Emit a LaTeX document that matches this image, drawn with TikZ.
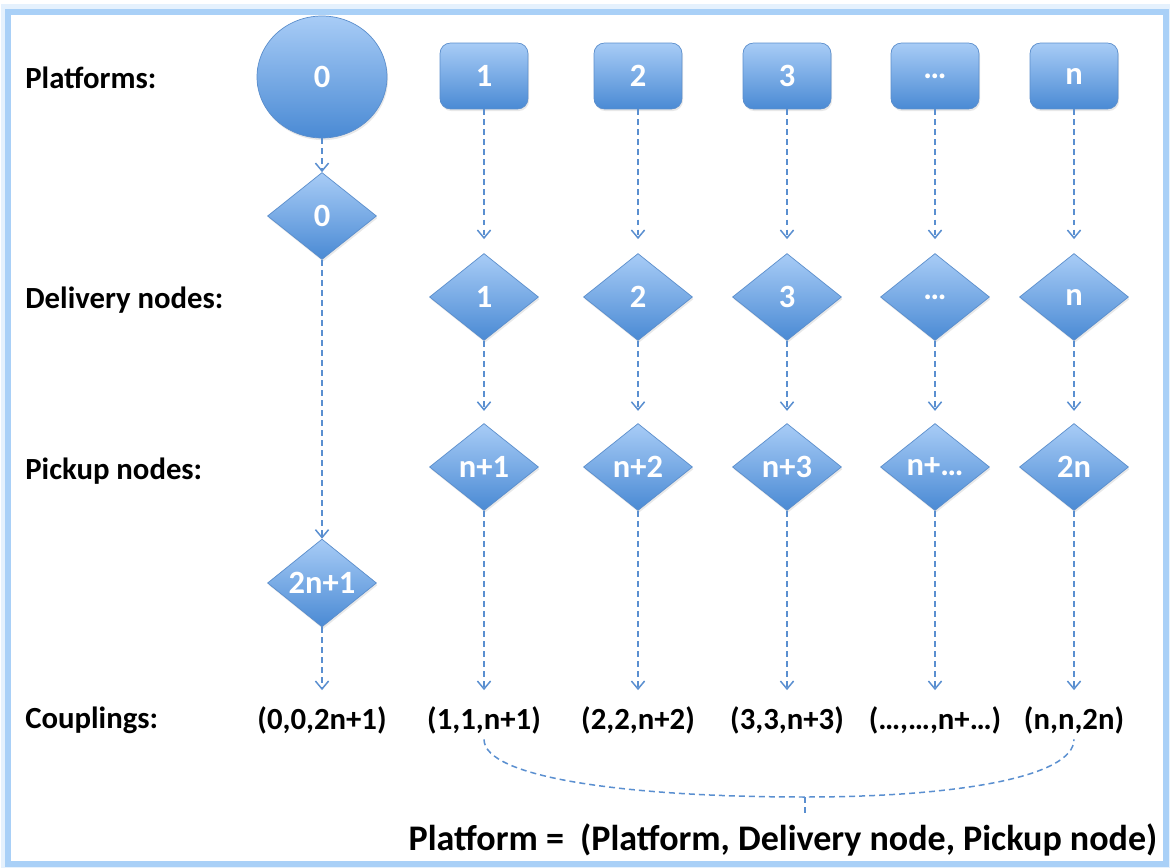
\documentclass[tikz,border=0pt]{standalone}
\usepackage{fontspec}
\setmainfont{Carlito}
\usetikzlibrary{positioning, arrows.meta, shapes.geometric, shadows}

\definecolor{nodetop}{HTML}{A8CCF6}
\definecolor{nodebot}{HTML}{4A8AD4}
\definecolor{nodeline}{HTML}{5B8ECC}
\definecolor{linkblue}{HTML}{5A8FD0}
\definecolor{frameblue}{HTML}{A9D0F7}

\begin{document}
\begin{tikzpicture}[
  x=0.02cm, y=-0.02cm,
  >={Straight Barb[length=4.5pt, width=7.5pt]},
  font=\fontsize{17.5}{20}\selectfont\bfseries,
  blob/.style={draw=nodeline, top color=nodetop, bottom color=nodebot,
               text=white, inner sep=0pt,
               font=\fontsize{18.5}{20}\selectfont\bfseries,
               drop shadow={opacity=0.18, shadow xshift=0.6pt, shadow yshift=-1.2pt}},
  platbox/.style={blob, rounded corners=6pt, minimum width=1.76cm, minimum height=1.32cm},
  platcirc/.style={blob, ellipse, minimum width=2.6cm, minimum height=2.44cm},
  diam/.style={blob, diamond, minimum width=2.18cm, minimum height=1.74cm},
  link/.style={->, linkblue, line width=0.85pt, dash pattern=on 3.4pt off 2.3pt},
  brace/.style={linkblue, line width=0.85pt, dash pattern=on 3.4pt off 2.3pt},
  rowlabel/.style={anchor=west, inner sep=0pt},
  couple/.style={inner sep=0pt},
]

\useasboundingbox (0,0) rectangle (1170,868);

% Frame
\draw[frameblue, line width=0.3cm, opacity=0.3] (8,12) rectangle (1166,864);
\draw[frameblue, line width=0.12cm, fill=white] (8,12) rectangle (1166,864);

% Row labels
\node[rowlabel] (lblplat) at (25,78) {Platforms:};
\node[rowlabel] (lbldeliv) at (25,300) {Delivery nodes:};
\node[rowlabel] (lblpick) at (25,471) {Pickup nodes:};
\node[rowlabel] (lblcoup) at (25,720) {Couplings:};

% Column 0 (depot)
\node[platcirc] (plat0) at (322,77) {0};
\node[diam] (deliv0) at (322,216) {0};
\node[diam] (pick0) at (322,583) {2n+1};
\node[couple] (coup0) at (322,720) {(0,0,2n+1)};
\draw[link] (plat0) -- (deliv0);
\draw[link] (deliv0) -- (pick0);
\draw[link, shorten >=9pt] (pick0) -- (coup0);

% Columns 1..n
\foreach \i/\x/\p/\d/\c in {1/484/1/n+1/{(1,1,n+1)}, 2/638/2/n+2/{(2,2,n+2)},
                            3/787/3/n+3/{(3,3,n+3)}, 4/935/…/n+…/{(…,…,n+…)},
                            5/1074/n/2n/{(n,n,2n)}} {
  \node[platbox] (plat\i) at (\x,76) {\p};
  \node[diam] (deliv\i) at (\x,297) {\p};
  \node[diam] (pick\i) at (\x,467) {\d};
  \node[couple] (coup\i) at (\x,720) {\c};
  \draw[link, shorten >=8pt] (plat\i) -- (deliv\i);
  \draw[link, shorten >=7pt] (deliv\i) -- (pick\i);
  \draw[link, shorten >=9pt] (pick\i) -- (coup\i);
}

% Brace under the couplings
\coordinate (brmid) at (805,797);
\coordinate (brtip) at (805,817);
\draw[brace] ([yshift=-3pt]coup1.south) .. controls +(0,38) and +(-180,0) .. (brmid)
  .. controls +(150,0) and +(0,38) .. ([yshift=-3pt]coup5.south);
\draw[brace] (brmid) -- (brtip);

\node[font=\fontsize{20.5}{24}\selectfont\bfseries] (formula) at (783,840)
  {Platform =\ \ (Platform, Delivery node, Pickup node)};

\end{tikzpicture}
\end{document}
